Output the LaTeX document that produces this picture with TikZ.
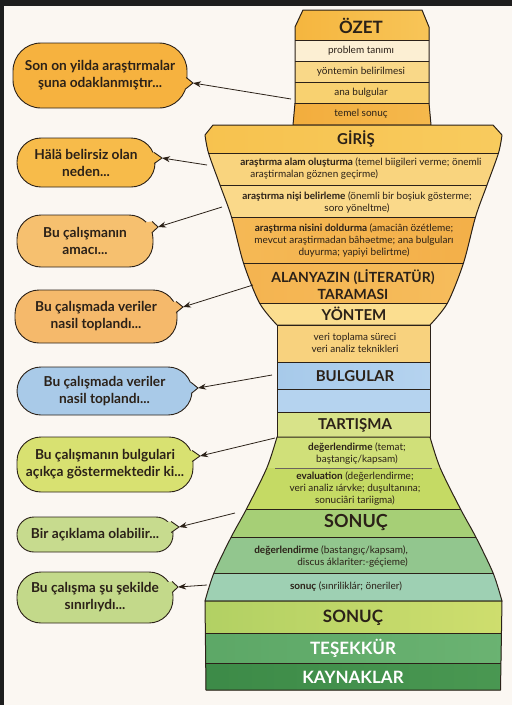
\documentclass[tikz,border=0pt]{standalone}
\usepackage{fontspec}
\setmainfont{Lato}
\usetikzlibrary{arrows.meta}
\definecolor{paper}{HTML}{FBF7F2}
\definecolor{frame}{HTML}{1E1E1E}
\definecolor{ink}{HTML}{2B2118}
\definecolor{ozA}{HTML}{F5B43C}\definecolor{ozB}{HTML}{F8C65A}
\definecolor{oz1}{HTML}{FCEFD3}\definecolor{oz2}{HTML}{F9D888}
\definecolor{oz3}{HTML}{F8D170}\definecolor{oz4A}{HTML}{F2AC3C}\definecolor{oz4B}{HTML}{F5B94D}
\definecolor{giA}{HTML}{F7C24E}\definecolor{giB}{HTML}{F8CB5E}
\definecolor{gi1}{HTML}{F9D47E}\definecolor{gi2}{HTML}{FAD98A}
\definecolor{gi3A}{HTML}{F5BA57}\definecolor{gi3B}{HTML}{F3AE47}
\definecolor{alA}{HTML}{F4B24E}\definecolor{alB}{HTML}{F6BE5E}
\definecolor{yo}{HTML}{FBDE90}\definecolor{veri}{HTML}{F8D27E}
\definecolor{bul}{HTML}{A7CAEA}\definecolor{bulB}{HTML}{B5D3EF}
\definecolor{tar}{HTML}{D8E389}\definecolor{deA}{HTML}{D0E079}\definecolor{ev}{HTML}{C5DA64}
\definecolor{son}{HTML}{A6CF76}\definecolor{deb}{HTML}{92C68E}\definecolor{sonr}{HTML}{9ED0B3}
\definecolor{bsA}{HTML}{B1D063}\definecolor{bsB}{HTML}{CFDE6E}
\definecolor{tesA}{HTML}{5CA766}\definecolor{tesB}{HTML}{6BB372}
\definecolor{kayA}{HTML}{3C8A47}\definecolor{kayB}{HTML}{4A9852}
\definecolor{bA}{HTML}{F6B23F}\definecolor{bB}{HTML}{F7BB4A}\definecolor{bC}{HTML}{F6C06F}
\definecolor{bD}{HTML}{F5B96B}\definecolor{bE}{HTML}{A9CAE8}\definecolor{bF}{HTML}{D8E171}
\definecolor{bG}{HTML}{C7DB8E}\definecolor{bH}{HTML}{C3D98A}
\newcommand{\ozshape}[1]{\path[#1] (295,27) -- (303,10) -- (422,10) -- (429,27) -- (429,103) -- (431,125) -- (293,125) -- (295,103) -- cycle;}
\newcommand{\funshape}[1]{\path[#1] (213,125) -- (493,125) -- (502,135) -- plot[smooth, tension=0.5] coordinates {(502,135) (498.5,153) (487,185) (475.5,217) (463.5,263) (447.5,303) (430,325)} -- (277,325) -- plot[smooth, tension=0.5] coordinates {(277,325) (259.5,303) (243.5,263) (231.5,217) (220,185) (208.5,153) (205,135)} -- cycle;}
\newcommand{\bellshape}[1]{\path[#1] (277,437) -- (430,437) -- plot[smooth] coordinates {(430,437) (440.2,468) (460.5,509) (475.8,537) (493.1,573) (502,601)} -- (205,601) -- plot[smooth] coordinates {(205,601) (213.9,573) (231.2,537) (246.5,509) (266.8,468) (277,437)} -- cycle;}
\newcommand{\botshape}[1]{\path[#1] (205,601) -- (502,601) -- (500.5,690) -- (206,690) -- cycle;}
\newcommand{\bubtail}[4]{%
  \fill[#1] (#2-7,#4-5) -- (#2-0.5,#4-5.5) -- (#3,#4) -- (#2-0.5,#4+5.5) -- (#2-7,#4+5) -- cycle;
  \draw[ink, line width=0.9pt, line join=round] (#2-0.8,#4-5.5) -- (#3,#4) -- (#2-0.8,#4+5.5);}
\begin{document}
\begin{tikzpicture}[x=1pt,y=-1pt]
\tikzset{
  outl/.style={draw=ink, line width=1pt, line join=round},
  ttl/.style={font=\bfseries\fontsize{15}{17}\selectfont, text=ink, inner sep=0pt, align=center},
  rowt/.style={font=\fontsize{10}{12}\selectfont, text=ink, inner sep=0pt, align=center},
  bub/.style={draw=ink, line width=0.9pt, rounded corners=24pt, align=center, inner sep=0pt, text=ink, font=\bfseries\fontsize{13.7}{17}\selectfont},
  conn/.style={draw=ink, line width=0.8pt, -{Stealth[length=8pt,width=6pt]}},
  sep/.style={draw=ink, line width=0.9pt},
}
\fill[frame] (0,0) rectangle (512,705);
\fill[paper] (4,6) rectangle (512,705);
\useasboundingbox (0,0) rectangle (512,705);

% ---------- OZET ----------
\begin{scope}
  \ozshape{clip}
  \fill[left color=ozA, right color=ozB] (280,5) rectangle (440,40);
  \fill[oz1] (280,40) rectangle (440,61);
  \fill[oz2] (280,61) rectangle (440,82);
  \fill[oz3] (280,82) rectangle (440,103);
  \fill[left color=oz4A, right color=oz4B] (280,103) rectangle (440,126);
  \draw[sep] (280,40) -- (440,40);
  \draw[sep] (280,61) -- (440,61);
  \draw[sep] (280,82) -- (440,82);
  \draw[sep] (280,103) -- (440,103);
\end{scope}
\ozshape{outl}
\node[ttl, font=\bfseries\fontsize{17}{19}\selectfont] (ozet) at (361,26) {ÖZET};
\node[rowt] (oz1t) at (361,50.5) {problem tanımı};
\node[rowt] (oz2t) at (361,71.5) {yöntemin belirilmesi};
\node[rowt] (oz3t) at (361,92.5) {ana bulgular};
\node[rowt] (oz4t) at (361,113.5) {temel sonuç};

% ---------- GIRIS funnel ----------
\begin{scope}
  \funshape{clip}
  \fill[left color=giA, right color=giB] (195,120) rectangle (510,153);
  \fill[gi1] (195,153) rectangle (510,185);
  \fill[gi2] (195,185) rectangle (510,217);
  \fill[left color=gi3A, right color=gi3B] (195,217) rectangle (510,263);
  \fill[left color=alA, right color=alB] (195,263) rectangle (510,303);
  \fill[yo] (195,303) rectangle (510,326);
  \draw[sep] (195,153) -- (510,153);
  \draw[sep] (195,185) -- (510,185);
  \draw[sep] (195,217) -- (510,217);
  \draw[sep] (195,263) -- (510,263);
  \draw[sep] (195,303) -- (510,303);
\end{scope}
\funshape{outl}
\node[ttl] (giris) at (356,139) {GİRİŞ};
\node[rowt, align=left] (gi1t) at (361,168.5) {\textbf{araştırma alam oluşturma} (temel biigileri verme; önemli\\\hspace*{10pt}araştirmalan göznen geçirme)};
\node[rowt] (gi2t) at (357,202) {\textbf{araştırma nişi belirleme} (önemli bir boşiuk gösterme;\\soro yöneltme)};
\node[rowt] (gi3t) at (354,240) {\textbf{araştırma nisini doldurma} (amaciân özétleme;\\mevcut araştirmadan bâhəetme; ana bulguları\\duyurma; yapiyi belirtme)};
\node[ttl, font=\bfseries\fontsize{14}{17}\selectfont] (alan) at (353,284.5) {ALANYAZIN (LİTERATÜR)\\TARAMASI};
\node[ttl] (yontem) at (354,314) {YÖNTEM};

% ---------- column ----------
\fill[veri] (277,325) rectangle (430,362);
\fill[left color=bul, right color=bulB] (277,362) rectangle (430,389);
\fill[bulB] (277,389) rectangle (430,412);
\fill[tar] (277,412) rectangle (430,437);
\draw[outl] (277,325) rectangle (430,437);
\draw[sep] (277,362) -- (430,362);
\draw[sep] (277,389) -- (430,389);
\draw[sep] (277,412) -- (430,412);
\node[rowt] (verit) at (355,342.5) {veri toplama süreci\\veri analiz teknikleri};
\node[ttl] (bulgu) at (355,376) {BULGULAR};
\node[ttl] (tartis) at (355,425) {TARTIŞMA};

% ---------- bell ----------
\begin{scope}
  \bellshape{clip}
  \fill[deA] (195,435) rectangle (510,468);
  \fill[ev] (195,468) rectangle (510,509);
  \fill[son] (195,509) rectangle (510,537);
  \fill[deb] (195,537) rectangle (510,573);
  \fill[sonr] (195,573) rectangle (510,602);
  \draw[ink!70, line width=0.5pt] (275,468) -- (432,468);
  \draw[sep] (195,509) -- (510,509);
  \draw[sep] (195,537) -- (510,537);
  \draw[sep] (195,573) -- (510,573);
\end{scope}
\bellshape{outl}
\node[rowt] (de1t) at (357,453.5) {\textbf{değerlendirme} (temat;\\baştangiç/kapsam)};
\node[rowt] (evt) at (355,488.5) {\textbf{evaluation} (değerlendirme;\\veri analiz ıárvke; duşultanına;\\sonuciâri tariigma)};
\node[ttl, font=\bfseries\fontsize{18}{20}\selectfont] (sonuc1) at (356,523) {SONUÇ};
\node[rowt, align=right, anchor=east] (de2t) at (408,556.5) {\textbf{değerlendirme} (bastangıç/kapsam),\\discus áklariter:-géçieme)};
\node[rowt] (sonrt) at (346,587) {\textbf{sonuç} (sınriliklár; öneriler)};

% ---------- bottom block ----------
\begin{scope}
  \botshape{clip}
  \fill[left color=bsA, right color=bsB] (195,600) rectangle (510,633);
  \fill[left color=tesA, right color=tesB] (195,633) rectangle (510,663);
  \fill[left color=kayA, right color=kayB] (195,663) rectangle (510,692);
  \draw[sep] (195,633) -- (510,633);
  \draw[sep] (195,663) -- (510,663);
\end{scope}
\botshape{outl}
\node[ttl, font=\bfseries\fontsize{17}{19}\selectfont] (sonuc2) at (353,618) {SONUÇ};
\node[ttl, font=\bfseries\fontsize{17}{19}\selectfont, text=white] (tesek) at (353,648) {TEŞEKKÜR};
\node[ttl, font=\bfseries\fontsize{17}{19}\selectfont, text=white] (kayn) at (353,677) {KAYNAKLAR};

% ---------- bubbles ----------
\node[bub, fill=bA, minimum width=174pt, minimum height=65pt, rounded corners=28pt] (b1) at (100,75.5) {Son on yilda araştırmalar\\şuna odaklanmıştır...};
\bubtail{bA}{187}{193}{83}
\node[bub, fill=bB, minimum width=138pt, minimum height=49pt] (b2) at (86,162.5) {Hälä belirsiz olan\\neden...};
\bubtail{bB}{155}{162}{158}
\node[bub, fill=bC, minimum width=136pt, minimum height=52pt] (b3) at (85,241) {Bu çalışmanın\\amacı...};
\bubtail{bC}{153}{158}{227}
\node[bub, fill=bD, minimum width=162pt, minimum height=53pt] (b4) at (96,316.5) {Bu çalışmada veriler\\nasil toplandı...};
\bubtail{bD}{177}{183}{307}
\node[bub, fill=bE, minimum width=175pt, minimum height=48pt] (b5) at (104.5,391) {Bu çalışmada veriler\\nasil toplandı...};
\bubtail{bE}{192}{198}{388}
\node[bub, fill=bF, minimum width=176pt, minimum height=55pt] (b6) at (105,464.5) {Bu çalışmanın bulgulari\\açıkça göstermektedir ki...};
\bubtail{bF}{193}{200}{456}
\node[bub, fill=bG, minimum width=156pt, minimum height=35pt, rounded corners=17pt] (b7) at (95,534.5) {Bir açıklama olabilir...};
\bubtail{bG}{172}{179}{527}
\node[bub, fill=bH, minimum width=156pt, minimum height=51pt] (b8) at (95,597.5) {Bu çalışma şu şekilde\\sınırlıydı...};
\bubtail{bH}{173}{178}{587}

% ---------- connectors ----------
\coordinate (t1) at (193,83);   \coordinate (e1) at (291,99);
\coordinate (t2) at (162,158);  \coordinate (e2) at (207,165);
\coordinate (t3) at (158,227);  \coordinate (e3) at (222,207);
\coordinate (t4) at (183,307);  \coordinate (e4) at (253,285);
\coordinate (t5) at (198,388);  \coordinate (e5) at (272,375);
\coordinate (t6) at (200,456);  \coordinate (e6) at (275,438);
\coordinate (t7) at (179,527);  \coordinate (e7) at (235,513);
\coordinate (t8) at (178,587);  \coordinate (e8) at (207,585);
\foreach \i in {1,...,8} { \draw[conn] (e\i) -- (t\i); }
\end{tikzpicture}
\end{document}
